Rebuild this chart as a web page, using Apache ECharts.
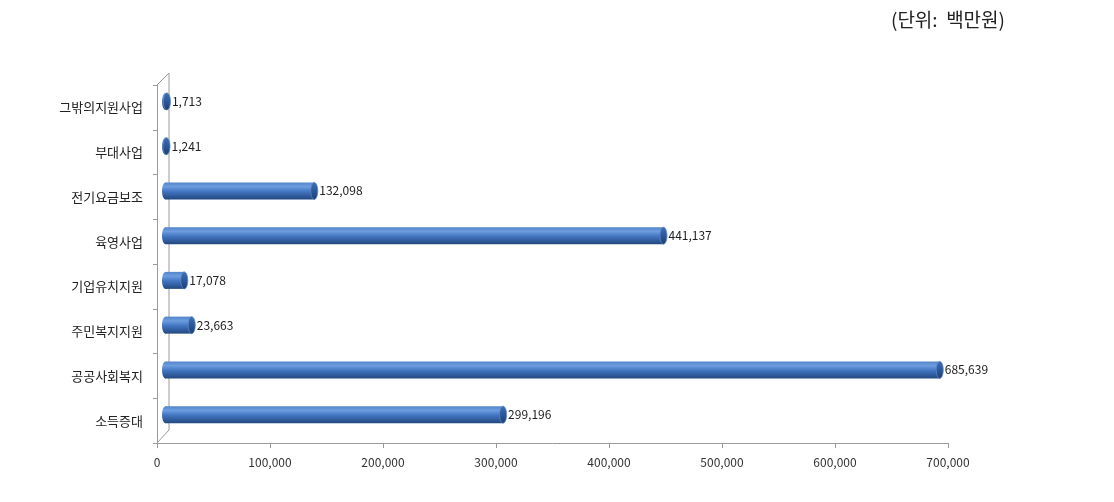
<!DOCTYPE html>
<html><head><meta charset="utf-8">
<script src="https://cdn.jsdelivr.net/npm/echarts@6/dist/echarts.min.js"></script>
<style>html,body{margin:0;padding:0;background:#fff}#c{width:1114px;height:502px}</style>
</head><body><div id="c"></div>
<script>
const categories = ['소득증대','공공사회복지','주민복지지원','기업유치지원','육영사업','전기요금보조','부대사업','그밖의지원사업'];
const values = [299196, 685639, 23663, 17078, 441137, 132098, 1241, 1713];
const xTicks = [0, 100000, 200000, 300000, 400000, 500000, 600000, 700000];
const unitText = '(단위:  백만원)';

const FONT = '"Noto Sans CJK KR", "Noto Sans", sans-serif';
const gridL = 157, gridT = 85, gridR = 166, gridB = 59;
const chart = echarts.init(document.getElementById('c'));
const fmt = v => v.toLocaleString('en-US');

const barGrad = new echarts.graphic.LinearGradient(0,0,0,1,[
  {offset:0,color:'#5284c9'},{offset:0.25,color:'#6d9de0'},{offset:0.55,color:'#4174bf'},{offset:1,color:'#22487f'}]);
const capGrad = new echarts.graphic.LinearGradient(0,0,0,1,[
  {offset:0,color:'#3e6fb5'},{offset:0.5,color:'#2c5899'},{offset:1,color:'#1d3d6e'}]);

chart.setOption({
  animation:false,
  grid:{left:gridL, top:gridT, right:gridR, bottom:gridB},
  title:{text:unitText, right:104, top:5, textStyle:{fontFamily:FONT, fontSize:19, fontWeight:'normal', color:'#222'}},
  xAxis:{type:'value', min:0, max:700000, interval:100000,
    axisLine:{show:true, lineStyle:{color:'#9a9a9a'}},
    axisTick:{show:true, length:5, lineStyle:{color:'#9a9a9a'}},
    splitLine:{show:false},
    axisLabel:{margin:13, fontFamily:FONT, fontSize:12, color:'#333', formatter:v=>fmt(v)}},
  yAxis:{type:'category', data:categories,
    axisLine:{show:true, lineStyle:{color:'#9a9a9a'}},
    axisTick:{show:true, length:4, lineStyle:{color:'#9a9a9a'}},
    axisLabel:{margin:14, fontFamily:FONT, fontSize:13, color:'#222'}},
  series:[{
    type:'custom',
    data: values.map((v,i)=>[v,i]),
    renderItem:(params, api)=>{
      const v = api.value(0), c = api.value(1);
      const p0 = api.coord([0,c]), p1 = api.coord([v,c]);
      const h = 17, rx = 3.5;
      const x0 = p0[0]+8.5, x1 = Math.max(p1[0]+8, x0+1), yc = p0[1]-6;
      return {type:'group', children:[
        {type:'rect', shape:{x:x0, y:yc-h/2, width:x1-x0, height:h}, style:{fill:barGrad}},
        {type:'ellipse', shape:{cx:x0, cy:yc, rx:rx, ry:h/2}, style:{fill:barGrad}},
        {type:'ellipse', shape:{cx:x1, cy:yc, rx:rx, ry:h/2}, style:{fill:capGrad, stroke:'#5a88c8', lineWidth:0.8}},
        {type:'text', style:{x:x1+5, y:yc, text:fmt(v), fill:'#222', font:'12px '+FONT, textVerticalAlign:'middle', textAlign:'left'}}
      ]};
    }
  }],
  graphic:[
    {type:'polyline', silent:true, shape:{points:[[gridL,gridT],[gridL+12,gridT-12],[gridL+12,502-gridB-13],[gridL,502-gridB]]},
     style:{stroke:'#9a9a9a', lineWidth:1, fill:null}}
  ]
});
</script></body></html>
